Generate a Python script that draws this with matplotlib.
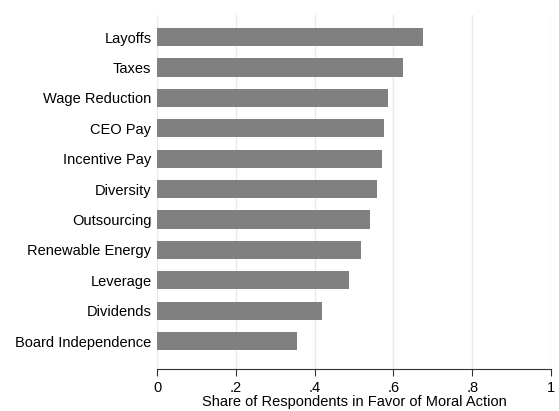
import matplotlib
matplotlib.use("Agg")
import matplotlib.pyplot as plt

cats = ["Layoffs","Taxes","Wage Reduction","CEO Pay","Incentive Pay","Diversity",
        "Outsourcing","Renewable Energy","Leverage","Dividends","Board Independence"]
vals = [0.674,0.625,0.587,0.575,0.572,0.559,0.541,0.519,0.488,0.420,0.356]
ticks = [0,0.2,0.4,0.6,0.8,1.0]
ticklabels = ["0",".2",".4",".6",".8","1"]

plt.rcParams['font.family'] = ['Liberation Sans','DejaVu Sans']
fig = plt.figure(figsize=(5.59,4.11), dpi=100)
ax = fig.add_axes([157/559, 1-369/411, (551-157)/559, (369-15)/411])
y = list(range(len(cats)))
ax.barh(y, vals, height=0.6, color="#808080", zorder=3)
ax.set_ylim(10.92, -0.73)
ax.set_xlim(0, 1.0)
ax.set_yticks(y)
ax.set_yticklabels(cats, fontsize=10.5)
ax.set_xticks(ticks)
ax.set_xticklabels(ticklabels, fontsize=10.5)
ax.tick_params(axis='y', length=0, pad=4)
ax.tick_params(axis='x', length=5, color="#333333")
for s in ["top","right","left"]:
    ax.spines[s].set_visible(False)
ax.spines["bottom"].set_color("#333333")
ax.grid(axis='x', color="#e4ecee", linewidth=1, zorder=0)
ax.set_xlabel("Share of Respondents in Favor of Moral Action", fontsize=10.5, labelpad=0)
fig.savefig("out.png", dpi=100)
